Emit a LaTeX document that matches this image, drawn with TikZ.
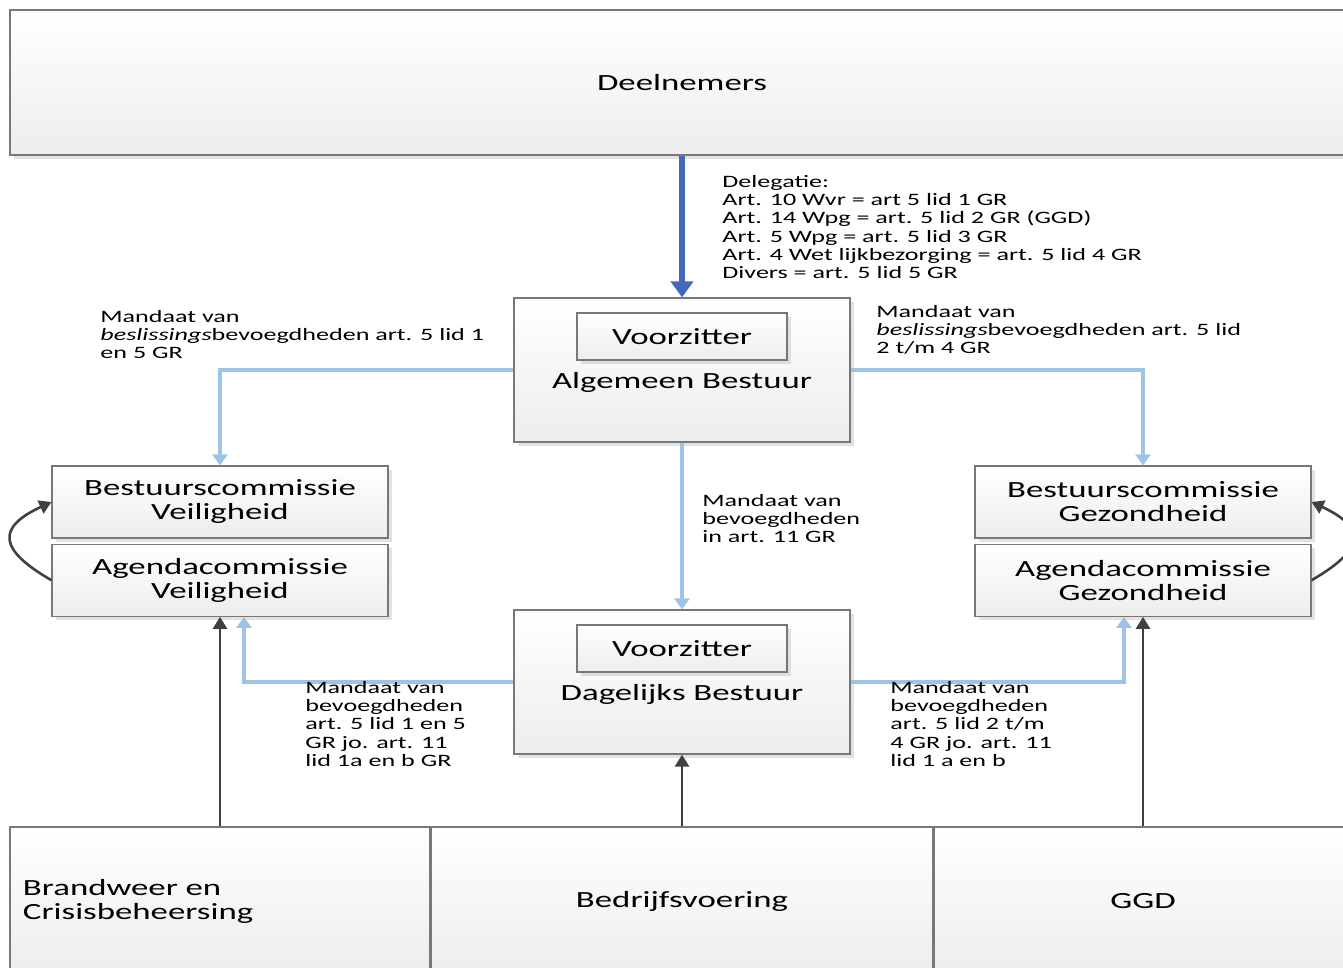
\documentclass[tikz,border=0pt]{standalone}
\usepackage{fontspec}
\setmainfont{Carlito}[FakeStretch=1.5]
\usetikzlibrary{arrows.meta,positioning,shadows}

\definecolor{delegblue}{RGB}{68,104,188}
\definecolor{mandblue}{RGB}{157,195,230}
\definecolor{linkgray}{RGB}{64,64,64}
\definecolor{boxline}{RGB}{120,120,120}

\newcommand{\boxfont}{\fontsize{11.6}{12}\selectfont}
\newcommand{\notefont}{\fontsize{8.7}{9.1}\selectfont}

\tikzset{
  orgbox/.style={draw=boxline, line width=0.6pt, top color=white, bottom color=gray!14,
    drop shadow={shadow xshift=2pt, shadow yshift=-2pt, fill=gray!45, opacity=0.5},
    font=\boxfont, align=center, inner sep=0pt},
  chairbox/.style={orgbox, minimum width=105pt, minimum height=23.5pt},
  boxtext/.style={font=\boxfont, inner sep=0pt},
  note/.style={font=\notefont, align=left, inner sep=0pt, anchor=north west},
  deleg/.style={delegblue, line width=3pt, -{Triangle[width=11pt,length=8pt]}},
  mandaat/.style={mandblue, line width=1.8pt, -{Triangle[width=7.5pt,length=5.5pt]}},
  link/.style={linkgray, line width=1.3pt, -{Triangle[width=7pt,length=6pt]}}
}

\begin{document}
\begin{tikzpicture}[x=0.5pt,y=0.5pt]
  \useasboundingbox (0,0) rectangle (1343,-968);
  \clip (0,0) rectangle (1343,-968);

  % top
  \node[orgbox, minimum width=672pt, minimum height=72.5pt] (deel) at (682,-82.5) {Deelnemers};

  % besturen
  \node[orgbox, minimum width=168pt, minimum height=72pt] (ab) at (682,-370) {};
  \node[chairbox, below=7.5pt of ab.north] (abvz) {Voorzitter};
  \node[boxtext] (abtxt) at (682,-382) {Algemeen Bestuur};

  \node[orgbox, minimum width=168pt, minimum height=72pt] (db) at (682,-682) {};
  \node[chairbox, below=7.5pt of db.north] (dbvz) {Voorzitter};
  \node[boxtext] (dbtxt) at (682,-694) {Dagelijks Bestuur};

  % commissies
  \node[orgbox, minimum width=168pt, minimum height=36pt] (bcv) at (220,-502) {Bestuurscommissie\\Veiligheid};
  \node[orgbox, minimum width=168pt, minimum height=36pt, below=2.5pt of bcv] (acv) {Agendacommissie\\Veiligheid};
  \node[orgbox, minimum width=168pt, minimum height=36pt] (bcg) at (1143,-502) {Bestuurscommissie\\Gezondheid};
  \node[orgbox, minimum width=168pt, minimum height=36pt, below=2.5pt of bcg] (acg) {Agendacommissie\\Gezondheid};

  % onderdelen (lopen onder de rand door)
  \node[orgbox, align=left, text width=197pt, inner xsep=6.5pt, minimum height=74pt] (bw) at (220,-901) {Brandweer en\\Crisisbeheersing};
  \node[orgbox, minimum width=251pt, minimum height=74pt] (bv) at (682,-901) {Bedrijfsvoering};
  \node[orgbox, minimum width=209pt, minimum height=74pt] (ggd) at (1143,-901) {GGD};

  % pijlen
  \draw[deleg] (deel.south) -- (ab.north);
  \draw[mandaat] (ab.west) -| (bcv.north);
  \draw[mandaat] (ab.east) -| (bcg.north);
  \draw[mandaat] (ab.south) -- (db.north);
  \draw[mandaat] (db.west) -| ([xshift=12pt]acv.south);
  \draw[mandaat] (db.east) -| ([xshift=-9.5pt]acg.south);
  \draw[link] (bw.north) -- (acv.south);
  \draw[link] (bv.north) -- (db.south);
  \draw[link] (ggd.north) -- (acg.south);
  \draw[link] (acv.west) to[out=150,in=205,looseness=2] (bcv.west);
  \draw[link] (acg.east) to[out=30,in=-25,looseness=2] (bcg.east);

  % teksten
  \node[note] (delegtxt) at (722,-175) {Delegatie:\\Art. 10 Wvr = art 5 lid 1 GR\\Art. 14 Wpg = art. 5 lid 2 GR (GGD)\\Art. 5 Wpg = art. 5 lid 3 GR\\Art. 4 Wet lijkbezorging = art. 5 lid 4 GR\\Divers = art. 5 lid 5 GR};
  \node[note] (mandlinks) at (100,-310) {Mandaat van\\\textit{beslissings}bevoegdheden art. 5 lid 1\\en 5 GR};
  \node[note] (mandrechts) at (876,-305) {Mandaat van\\\textit{beslissings}bevoegdheden art. 5 lid\\2 t/m 4 GR};
  \node[note] (mandmidden) at (702,-494) {Mandaat van\\bevoegdheden\\in art. 11 GR};
  \node[note] (mandvlg) at (305,-681) {Mandaat van\\bevoegdheden\\art. 5 lid 1 en 5\\GR jo. art. 11\\lid 1a en b GR};
  \node[note] (mandgez) at (890,-681) {Mandaat van\\bevoegdheden\\art. 5 lid 2 t/m\\4 GR jo. art. 11\\lid 1 a en b};
\end{tikzpicture}
\end{document}
